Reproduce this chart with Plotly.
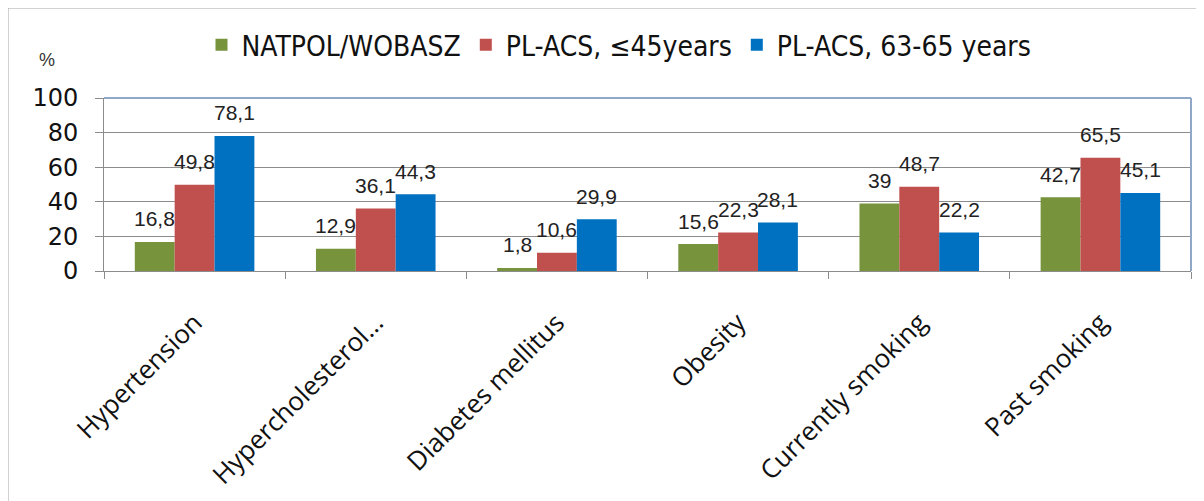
import plotly.graph_objects as go

categories = ["Hypertension", "Hypercholesterol...", "Diabetes mellitus", "Obesity",
              "Currently smoking", "Past smoking"]
series_names = ["NATPOL/WOBASZ", "PL-ACS, ≤45years", "PL-ACS, 63-65 years"]
natpol = [16.8, 12.9, 1.8, 15.6, 39, 42.7]
placs_young = [49.8, 36.1, 10.6, 22.3, 48.7, 65.5]
placs_old = [78.1, 44.3, 29.9, 28.1, 22.2, 45.1]
colors = ["#77933C", "#C0504D", "#0070C0"]
y_ticks = [0, 20, 40, 60, 80, 100]


def fmt(v):
    s = f"{v:g}"
    return s.replace(".", ",")


OFF = 8  # browser default body margin
W, H = 1204 - OFF, 501 - OFF
L, R, T, B = 104 - OFF, 1191 - OFF, 98 - OFF, 271 - OFF
BARGAP = 0.34

fig = go.Figure()
all_series = [natpol, placs_young, placs_old]
for name, vals, col in zip(series_names, all_series, colors):
    fig.add_trace(go.Bar(
        x=categories, y=vals, name=name, marker_color=col, marker_line_width=0,
    ))

# data labels, placed above each bar (outside end)
pw, ph = R - L, B - T
cat_w = pw / len(categories)
bar_w = cat_w * (1 - BARGAP) / len(all_series)
for si, vals in enumerate(all_series):
    xs = (si - (len(all_series) - 1) / 2) * bar_w
    for c, v in zip(categories, vals):
        fig.add_annotation(x=c, y=v, text=fmt(v), showarrow=False, xshift=xs, yshift=23,
                           xanchor="center", yanchor="middle",
                           font=dict(family="Liberation Sans, Arial, sans-serif", size=21,
                                     color="#222"))

fig.update_layout(
    width=W, height=H,
    margin=dict(l=L, r=W - R, t=T, b=H - B, autoexpand=False),
    paper_bgcolor="white", plot_bgcolor="white",
    barmode="group", bargap=BARGAP, bargroupgap=0.0,
    showlegend=True,
    legend=dict(orientation="h", xref="container", yref="container",
                x=(619 - OFF) / W, xanchor="center", y=1 - (45 - OFF) / H, yanchor="middle",
                font=dict(family="DejaVu Sans Condensed, sans-serif",
                          size=28, color="#111"),
                itemwidth=30, tracegroupgap=0),
    xaxis=dict(type="category", showline=True, linecolor="#8c8c8c", linewidth=1,
               ticks="outside", tickson="boundaries", ticklen=7, tickcolor="#8c8c8c",
               tickangle=-45, ticklabelstandoff=25,
               tickfont=dict(family="Open Sans, Liberation Sans, sans-serif", size=26, color="#111"),
               showgrid=False),
    yaxis=dict(range=[0, 100], tickvals=y_ticks, showline=True, linecolor="#8c8c8c",
               linewidth=1, ticks="outside", ticklen=8, tickcolor="#8c8c8c",
               ticklabelstandoff=12,
               showgrid=True, gridcolor="#8c8c8c", gridwidth=1, zeroline=False,
               tickfont=dict(family="DejaVu Sans, sans-serif", size=24, color="#111")),
)

# plot area border (top & right, bluish)
fig.add_shape(type="line", xref="paper", yref="paper", x0=0, x1=1, y0=1, y1=1,
              line=dict(color="#8FA8C8", width=2), layer="above")
fig.add_shape(type="line", xref="paper", yref="paper", x0=1, x1=1, y0=0, y1=1,
              line=dict(color="#8FA8C8", width=2), layer="above")
# outer frame (top & left, gray)
fx = (7 - OFF - L) / pw
fy = (B - (7 - OFF)) / ph
fig.add_shape(type="line", xref="paper", yref="paper", x0=fx, x1=(W - L) / pw, y0=fy, y1=fy,
              line=dict(color="#A6A6A6", width=3))
fig.add_shape(type="line", xref="paper", yref="paper", x0=fx, x1=fx, y0=fy, y1=(B - H) / ph,
              line=dict(color="#A6A6A6", width=3))

fig.add_annotation(text="%", xref="paper", yref="paper", x=(47 - OFF - L) / pw,
                   y=(B - (60 - OFF)) / ph,
                   showarrow=False, xanchor="center", yanchor="middle",
                   font=dict(family="Liberation Sans, Arial, sans-serif", size=18, color="#333"))

fig.write_html("out.html")
